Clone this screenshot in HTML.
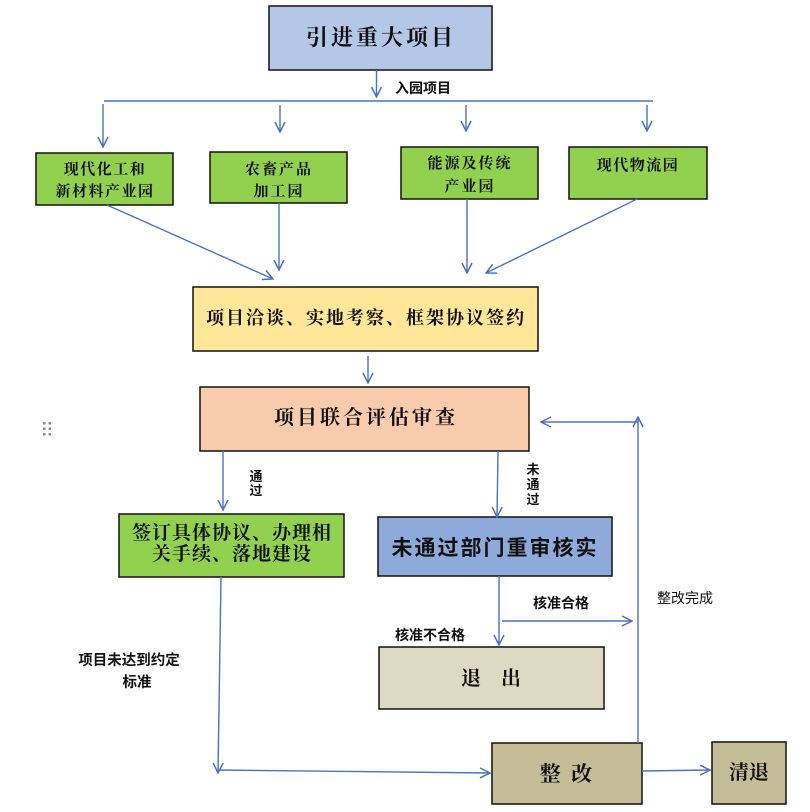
<!DOCTYPE html>
<html><head><meta charset="utf-8"><style>
html,body{margin:0;padding:0;background:#fff;}
svg{display:block;}
.sf{font-family:"Liberation Serif","Noto Serif CJK SC",serif;font-weight:bold;fill:#111;}
.ss{font-family:"Liberation Sans","Noto Sans CJK SC",sans-serif;font-weight:bold;fill:#111;}
.sn{font-family:"Liberation Sans","Noto Sans CJK SC",sans-serif;font-weight:normal;fill:#111;}
.ln{stroke:#4a72c0;stroke-width:1.4;fill:none;}
.bx{stroke:#111;stroke-width:1.5;}
</style></head><body>
<svg width="810" height="812" viewBox="0 0 810 812" xmlns="http://www.w3.org/2000/svg">
<defs>
<marker id="a" viewBox="0 0 12 12" refX="11" refY="6" markerWidth="12" markerHeight="12" markerUnits="userSpaceOnUse" orient="auto">
<path d="M1,1 L11,6 L1,11" fill="none" stroke="#4a72c0" stroke-width="1.5"/>
</marker>
</defs>
<rect width="810" height="812" fill="#fff"/>

<!-- boxes -->
<rect class="bx" x="269" y="6" width="223" height="64" fill="#b4c7e7"/>
<text class="sf" x="381" y="45" font-size="22" text-anchor="middle" letter-spacing="3">引进重大项目</text>

<rect class="bx" x="36" y="153" width="137" height="52" fill="#92d050"/>
<text class="sf" x="105" y="174" font-size="15" text-anchor="middle" letter-spacing="1.5">现代化工和</text>
<text class="sf" x="105" y="196" font-size="15" text-anchor="middle" letter-spacing="1.5">新材料产业园</text>

<rect class="bx" x="210" y="152" width="137" height="51" fill="#92d050"/>
<text class="sf" x="279" y="174" font-size="15" text-anchor="middle" letter-spacing="2">农畜产品</text>
<text class="sf" x="279" y="196" font-size="15" text-anchor="middle" letter-spacing="2">加工园</text>

<rect class="bx" x="401" y="147" width="137" height="52" fill="#92d050"/>
<text class="sf" x="470" y="168" font-size="15" text-anchor="middle" letter-spacing="2">能源及传统</text>
<text class="sf" x="470" y="191" font-size="15" text-anchor="middle" letter-spacing="2">产业园</text>

<rect class="bx" x="569" y="147" width="138" height="52" fill="#92d050"/>
<text class="sf" x="638" y="170" font-size="15" text-anchor="middle" letter-spacing="1.5">现代物流园</text>

<rect class="bx" x="193" y="287" width="345" height="64" fill="#ffe699"/>
<text class="sf" x="366" y="324" font-size="18" text-anchor="middle" letter-spacing="2">项目洽谈、实地考察、框架协议签约</text>

<rect class="bx" x="200" y="387" width="329" height="64" fill="#f8cbad"/>
<text class="sf" x="366" y="424" font-size="20" text-anchor="middle" letter-spacing="3">项目联合评估审查</text>

<rect class="bx" x="119" y="514" width="225" height="63" fill="#92d050"/>
<text class="sf" x="232" y="539" font-size="19" text-anchor="middle" letter-spacing="1">签订具体协议、办理相</text>
<text class="sf" x="232" y="560" font-size="19" text-anchor="middle" letter-spacing="1">关手续、落地建设</text>

<rect class="bx" x="378" y="517" width="234" height="59" fill="#8eaadb"/>
<text class="ss" x="495" y="555" font-size="21" text-anchor="middle" letter-spacing="2">未通过部门重审核实</text>

<rect class="bx" x="379" y="647" width="225" height="62" fill="#ddd9c3"/>
<text class="sf" x="491" y="685" font-size="20" text-anchor="middle" xml:space="preserve">退    出</text>

<rect class="bx" x="492" y="743" width="150" height="61" fill="#c4bd97"/>
<text class="sf" x="566" y="781" font-size="21" text-anchor="middle" xml:space="preserve">整  改</text>

<rect class="bx" x="712" y="742" width="74" height="62" fill="#c4bd97"/>
<text class="sf" x="749" y="779" font-size="20" text-anchor="middle">清退</text>

<!-- connectors -->
<line class="ln" x1="376.5" y1="70" x2="376.5" y2="97" marker-end="url(#a)"/>
<line class="ln" x1="104" y1="101" x2="653" y2="101"/>
<line class="ln" x1="103" y1="104" x2="103" y2="147" marker-end="url(#a)"/>
<line class="ln" x1="280" y1="105" x2="280" y2="132" marker-end="url(#a)"/>
<line class="ln" x1="466" y1="105" x2="466" y2="131" marker-end="url(#a)"/>
<line class="ln" x1="647" y1="105" x2="647" y2="131" marker-end="url(#a)"/>
<line class="ln" x1="107" y1="205" x2="273" y2="279" marker-end="url(#a)"/>
<line class="ln" x1="279" y1="203" x2="279" y2="270" marker-end="url(#a)"/>
<line class="ln" x1="467" y1="199" x2="467" y2="273" marker-end="url(#a)"/>
<line class="ln" x1="637" y1="199" x2="486" y2="273" marker-end="url(#a)"/>
<line class="ln" x1="368" y1="356" x2="368" y2="383" marker-end="url(#a)"/>
<line class="ln" x1="638" y1="743" x2="638" y2="417" marker-end="url(#a)"/>
<line class="ln" x1="638" y1="422" x2="541" y2="422" marker-end="url(#a)"/>
<line class="ln" x1="223" y1="451" x2="223" y2="510" marker-end="url(#a)"/>
<line class="ln" x1="498" y1="451" x2="497" y2="517" marker-end="url(#a)"/>
<line class="ln" x1="221" y1="577" x2="218" y2="773" marker-end="url(#a)"/>
<line class="ln" x1="218" y1="770" x2="490" y2="773" marker-end="url(#a)"/>
<line class="ln" x1="499" y1="576" x2="499" y2="645" marker-end="url(#a)"/>
<line class="ln" x1="502" y1="621" x2="632" y2="621" marker-end="url(#a)"/>
<line class="ln" x1="642" y1="771" x2="710" y2="770" marker-end="url(#a)"/>

<!-- labels -->
<text class="ss" x="395" y="93" font-size="14">入园项目</text>
<text class="ss" x="256" y="481" font-size="13" text-anchor="middle">通</text>
<text class="ss" x="256" y="495" font-size="13" text-anchor="middle">过</text>
<text class="ss" x="533" y="474" font-size="13" text-anchor="middle">未</text>
<text class="ss" x="533" y="489" font-size="13" text-anchor="middle">通</text>
<text class="ss" x="533" y="504" font-size="13" text-anchor="middle">过</text>
<text class="ss" x="533" y="608" font-size="14">核准合格</text>
<text class="sn" x="657" y="603" font-size="14">整改完成</text>
<text class="ss" x="395" y="640" font-size="14">核准不合格</text>
<text class="ss" x="129" y="665" font-size="14.5" text-anchor="middle">项目未达到约定</text>
<text class="ss" x="137" y="687" font-size="14.5" text-anchor="middle">标准</text>

<!-- dots icon -->
<g fill="#8a8a8a">
<rect x="43" y="422" width="2.5" height="2.5"/><rect x="48.5" y="422" width="2.5" height="2.5"/>
<rect x="43" y="427.5" width="2.5" height="2.5"/><rect x="48.5" y="427.5" width="2.5" height="2.5"/>
<rect x="43" y="433" width="2.5" height="2.5"/><rect x="48.5" y="433" width="2.5" height="2.5"/>
</g>
</svg>
</body></html>
